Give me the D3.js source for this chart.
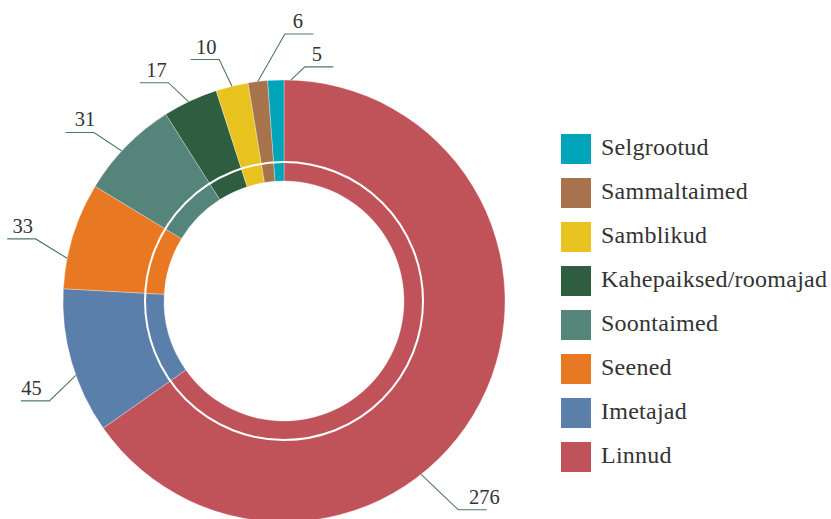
<!DOCTYPE html>
<html>
<head>
<meta charset="utf-8">
<script src="https://cdn.jsdelivr.net/npm/d3@7.9.0/dist/d3.min.js"></script>
<style>
  html, body { margin: 0; padding: 0; background: #fff; }
  svg { display: block; font-family: "Liberation Serif", "Times New Roman", serif; }
</style>
</head>
<body>
<div id="chart"></div>
<script>
// legend order (top to bottom)
const categories = ['Selgrootud', 'Sammaltaimed', 'Samblikud', 'Kahepaiksed/roomajad',
  'Soontaimed', 'Seened', 'Imetajad', 'Linnud'];
const counts = [5, 6, 10, 17, 31, 33, 45, 276];
const colors = ['#00a4b9', '#a7734c', '#e8c320', '#2e5d3f', '#55847a', '#e87822', '#5a7fab', '#c0535a'];

// label leader tweaks: anchor angle offset from slice middle, elbow angle offset & radius, side, text shift
const labelLayout = {
  'Selgrootud':           { da: 3.9,  de: 3.3,  er: 235, side: 1,  tx: 12 },
  'Sammaltaimed':         { da: 0,    de: 7.0,  er: 267, side: 1,  tx: 13 },
  'Samblikud':            { da: 0,    de: -1.4, er: 250, side: -1, tx: -13 },
  'Kahepaiksed/roomajad': { da: -0.5, de: -2.3, er: 247, side: -1, tx: -12 },
  'Soontaimed':           { da: -1.7, de: -1.2, er: 254, side: -1, tx: -9 },
  'Seened':               { da: -6.1, de: 2.9,  er: 256, side: -1, tx: -13 },
  'Imetajad':             { da: -3.7, de: -3.4, er: 255, side: -1, tx: -18 },
  'Linnud':               { da: 24.2, de: -1.5, er: 272, side: 1,  tx: 26 },
};

const width = 831;
const height = 519;
const cx = 284, cy = 301;
const outerR = 221, innerR = 120, ringR = 139;

const data = categories.map((c, i) => ({ name: c, value: counts[i], color: colors[i] }));

const svg = d3.select('#chart')
  .append('svg')
  .attr('width', width)
  .attr('height', height);

const g = svg.append('g').attr('transform', `translate(${cx},${cy})`);

// slices go clockwise from the top, starting with the biggest one
const pie = d3.pie().value(d => d.value).sort(null);
const arcs = pie(d3.reverse(data));

const arc = d3.arc().innerRadius(innerR).outerRadius(outerR);

g.selectAll('path.slice')
  .data(arcs)
  .join('path')
  .attr('class', 'slice')
  .attr('d', arc)
  .attr('fill', d => d.data.color)
  .attr('stroke', '#fff')
  .attr('stroke-opacity', 0.5)
  .attr('stroke-width', 0.6);

// thin white ring inside the donut
g.append('circle')
  .attr('r', ringR)
  .attr('fill', 'none')
  .attr('stroke', '#fff')
  .attr('stroke-width', 2);

// point on a circle, angle in degrees clockwise from top
const polar = (deg, r) => {
  const a = deg * Math.PI / 180;
  return [r * Math.sin(a), -r * Math.cos(a)];
};

const labels = g.append('g').attr('class', 'labels');
const segLen = 28.5;

arcs.forEach(d => {
  const lay = labelLayout[d.data.name];
  const mid = (d.startAngle + d.endAngle) / 2 * 180 / Math.PI;
  const p0 = polar(mid + lay.da, outerR);
  const p1 = polar(mid + lay.da + lay.de, lay.er);
  const p2 = [p1[0] + lay.side * segLen, p1[1]];

  labels.append('polyline')
    .attr('points', [p0, p1, p2].map(p => p.join(',')).join(' '))
    .attr('fill', 'none')
    .attr('stroke', '#4d7a5e')
    .attr('stroke-width', 1.1);

  labels.append('text')
    .attr('x', p1[0] + lay.tx)
    .attr('y', p1[1] - 6)
    .attr('text-anchor', 'middle')
    .attr('font-size', 20.5)
    .attr('fill', '#333')
    .text(d.data.value);
});

// legend
const legend = svg.append('g')
  .attr('class', 'legend')
  .attr('transform', 'translate(561,134)');

const item = legend.selectAll('g')
  .data(data)
  .join('g')
  .attr('transform', (d, i) => `translate(0,${i * 44})`);

item.append('rect')
  .attr('width', 30)
  .attr('height', 30)
  .attr('fill', d => d.color);

item.append('text')
  .attr('x', 40)
  .attr('y', 20.5)
  .attr('font-size', 24)
  .attr('letter-spacing', 0.25)
  .attr('fill', '#333')
  .text(d => d.name);
</script>
</body>
</html>
